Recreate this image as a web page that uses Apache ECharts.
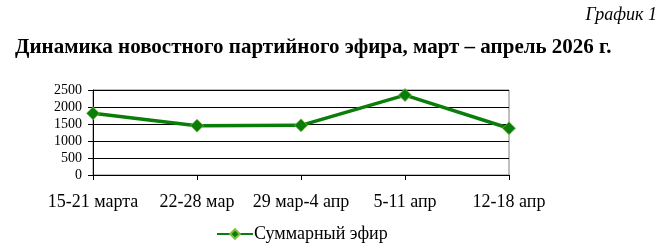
<!DOCTYPE html>
<html><head><meta charset="utf-8">
<script src="https://cdn.jsdelivr.net/npm/echarts@6/dist/echarts.min.js"></script>
<style>html,body{margin:0;padding:0;background:#fff}#c{width:667px;height:248px}</style>
</head><body><div id="c"></div>
<script>
const categories = ['15-21 марта', '22-28 мар', '29 мар-4 апр', '5-11 апр', '12-18 апр'];
const totalAir = [1815, 1450, 1460, 2350, 1375];
const seriesName = 'Суммарный эфир';
const titleText = 'Динамика новостного партийного эфира, март – апрель 2026 г.';
const captionText = 'График 1';

const chart = echarts.init(document.getElementById('c'), null, {renderer: 'canvas'});
const serif = '"Liberation Serif", "Times New Roman", serif';
chart.setOption({
  animation: false,
  backgroundColor: '#fff',
  title: [
    {text: captionText, right: 10, top: 6, padding: 0, textStyle: {fontFamily: serif, fontStyle: 'italic', fontWeight: 'normal', fontSize: 18, color: '#000'}},
    {text: titleText, left: 15, top: 37, padding: 0, textStyle: {fontFamily: serif, fontWeight: 'bold', fontSize: 21, color: '#000'}}
  ],
  legend: {
    left: 216, top: 225, padding: 0,
    itemWidth: 36, itemHeight: 12, itemGap: 2,
    textStyle: {fontFamily: serif, fontSize: 18, color: '#000', padding: [0, 0, 0, -4]},
    data: [seriesName]
  },
  grid: {left: 93, right: 158, top: 90, bottom: 73, containLabel: false, show: true, borderColor: '#808080', borderWidth: 1},
  xAxis: {
    type: 'category', data: categories, boundaryGap: false,
    axisLine: {lineStyle: {color: '#000', width: 1}},
    axisTick: {show: true, inside: false, length: 5, alignWithLabel: true, lineStyle: {color: '#000'}},
    axisLabel: {fontFamily: serif, fontSize: 18, color: '#000', margin: 18, interval: 0},
    splitLine: {show: false}
  },
  yAxis: {
    type: 'value', min: 0, max: 2500, interval: 500,
    axisLine: {show: true, lineStyle: {color: '#000'}},
    axisTick: {show: true, length: 5, lineStyle: {color: '#000'}},
    axisLabel: {fontFamily: serif, fontSize: 14, color: '#000', margin: 11, formatter: v => String(v)},
    splitLine: {show: true, lineStyle: {color: '#000', width: 1}}
  },
  series: [{
    name: seriesName, type: 'line', data: totalAir,
    symbol: 'diamond', symbolSize: 13,
    lineStyle: {color: '#0a7d0a', width: 3.5},
    itemStyle: {color: '#0a7d0a', borderColor: '#7fbf3f', borderWidth: 0.8}
  }]
});
</script></body></html>
